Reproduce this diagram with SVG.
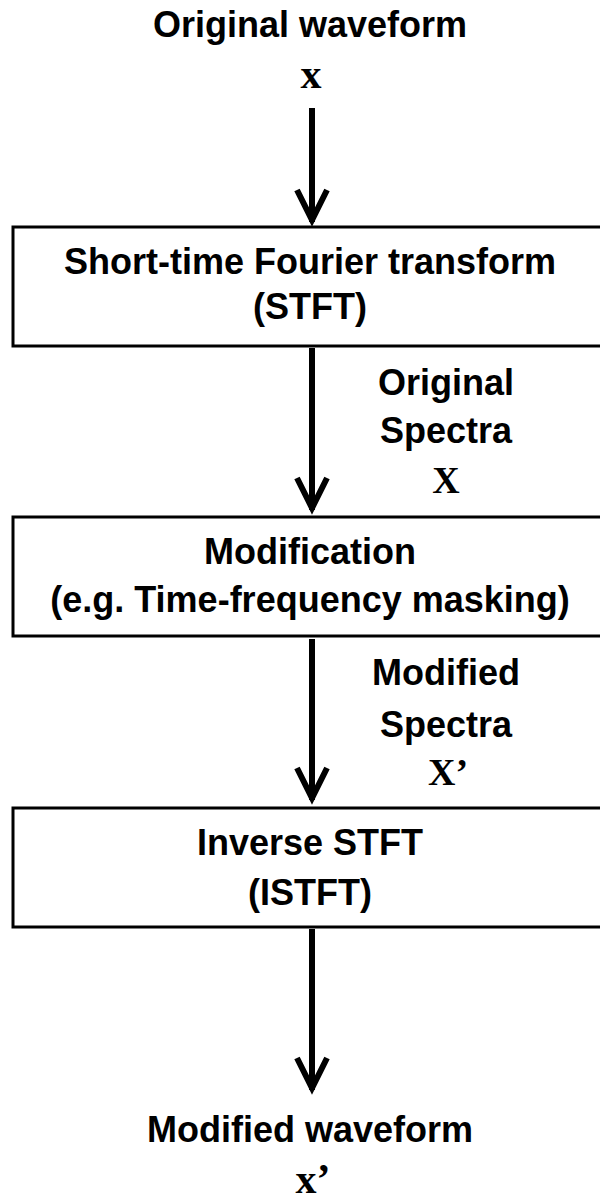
<svg xmlns="http://www.w3.org/2000/svg" width="600" height="1196" viewBox="0 0 600 1196">
  <style>
    .lbl { font-family: "Liberation Sans", Arial, sans-serif; font-weight: bold; font-size: 36px; fill: #000; text-anchor: middle; }
    .var { font-family: "Liberation Serif", "Times New Roman", serif; font-weight: bold; fill: #000; text-anchor: middle; }
    .box { fill: #fff; stroke: #000; stroke-width: 3; }
    .conn { fill: none; stroke: #000; stroke-width: 6; stroke-linejoin: miter; stroke-miterlimit: 10; }
  </style>
  <rect width="600" height="1196" fill="#fff"/>

  <!-- signal flow arrows: shaft plus open chevron head -->
  <g id="connectors">
    <path class="conn" d="M312,108 V222 M297,190 L312,220 L327,190"/>
    <path class="conn" d="M312,348 V510 M297,478 L312,508 L327,478"/>
    <path class="conn" d="M312,639 V800 M297,768 L312,798 L327,768"/>
    <path class="conn" d="M312,929 V1090 M297,1058 L312,1088 L327,1058"/>
  </g>

  <g id="input">
    <text class="lbl" x="310" y="37">Original waveform</text>
    <text class="var" x="311" y="88" font-size="42">x</text>
  </g>

  <g id="stft">
    <rect class="box" x="13" y="227" width="600" height="119"/>
    <text class="lbl" x="310" y="274">Short-time Fourier transform</text>
    <text class="lbl" x="310" y="319">(STFT)</text>
  </g>

  <g id="spectra-label">
    <text class="lbl" x="446" y="395">Original</text>
    <text class="lbl" x="446" y="443">Spectra</text>
    <text class="var" x="446" y="493" font-size="38">X</text>
  </g>

  <g id="modification">
    <rect class="box" x="13" y="517" width="600" height="119"/>
    <text class="lbl" x="310" y="564">Modification</text>
    <text class="lbl" x="310" y="612">(e.g. Time-frequency masking)</text>
  </g>

  <g id="modified-spectra-label">
    <text class="lbl" x="446" y="685">Modified</text>
    <text class="lbl" x="446" y="737">Spectra</text>
    <text class="var" x="448" y="785" font-size="38">X’</text>
  </g>

  <g id="istft">
    <rect class="box" x="13" y="808" width="600" height="119"/>
    <text class="lbl" x="310" y="855">Inverse STFT</text>
    <text class="lbl" x="310" y="905">(ISTFT)</text>
  </g>

  <g id="output">
    <text class="lbl" x="310" y="1142">Modified waveform</text>
    <text class="var" x="313" y="1193" font-size="42">x’</text>
  </g>
</svg>
